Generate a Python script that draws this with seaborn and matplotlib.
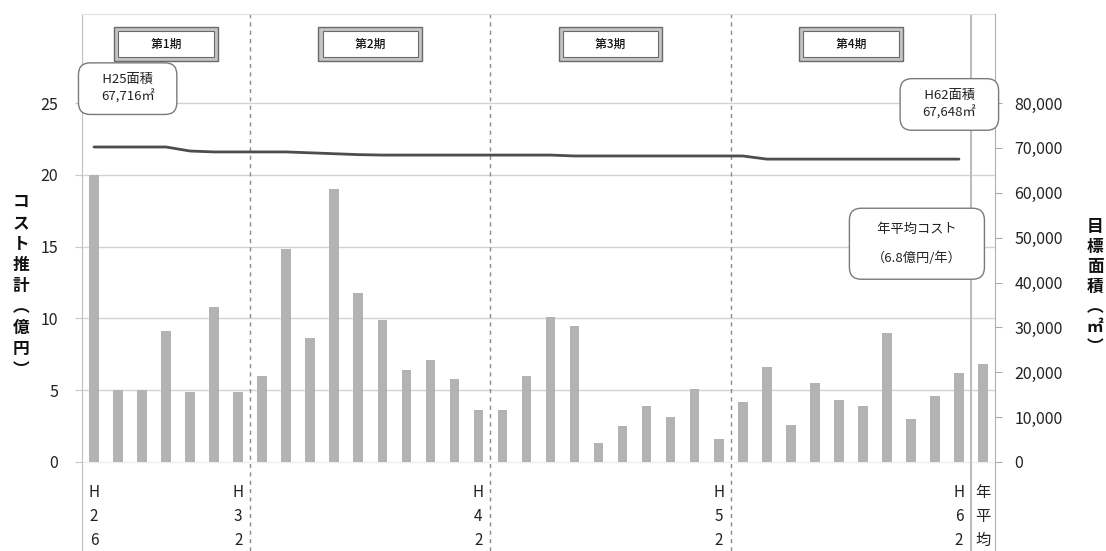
import numpy as np
import pandas as pd
import matplotlib
matplotlib.use("Agg")
import matplotlib.pyplot as plt
import seaborn as sns

# ---------------- data ----------------
years = [f"H{y}" for y in range(26, 63)] + ["年平均"]
cost = [20.0, 5.0, 5.0, 9.1, 4.9, 10.8, 4.9,
        6.0, 14.8, 8.6, 19.0, 11.8, 9.9, 6.4, 7.1, 5.8, 3.6,
        3.6, 6.0, 10.1, 9.5, 1.3, 2.5, 3.9, 3.1, 5.1, 1.6,
        4.2, 6.6, 2.6, 5.5, 4.3, 3.9, 9.0, 3.0, 4.6, 6.2,
        6.8]
area = [70200, 70200, 70200, 70200, 69300, 69100, 69100,
        69100, 69100, 68900, 68700, 68500, 68400, 68400, 68400, 68400, 68400,
        68400, 68400, 68400, 68200, 68200, 68200, 68200, 68200, 68200, 68200,
        68200, 67500, 67500, 67500, 67500, 67500, 67500, 67500, 67500, 67500]
periods = ["第1期", "第2期", "第3期", "第4期"]
period_ranges = [("H26", "H32"), ("H33", "H42"), ("H43", "H52"), ("H53", "H62")]
label_years = ["H26", "H32", "H42", "H52", "H62", "年平均"]
left_ticks = [0, 5, 10, 15, 20, 25]
right_ticks = [0, 10000, 20000, 30000, 40000, 50000, 60000, 70000, 80000]
avg_cost = 6.8

# ---------------- style ----------------
sns.set_style("white")
plt.rcParams["font.family"] = ["Noto Sans CJK JP", "DejaVu Sans"]

W, H = 1106, 551
fig = plt.figure(figsize=(W / 100, H / 100), dpi=100)
ax = fig.add_axes([82 / W, 0, (995 - 82) / W, 1 - 14 / H])

df = pd.DataFrame({"year": years, "cost": cost})
sns.barplot(data=df, x="year", y="cost", color="#b3b3b3", saturation=1,
            width=0.4, linewidth=0, ax=ax, zorder=2)

ratio = 3200.0
ylo, yhi = -6.2, 31.2
ax.set_xlim(-0.5, len(years) - 0.5)
ax.set_ylim(ylo, yhi)
ax.set_xticks([])
ax.set_xlabel("")
ax.set_ylabel("")
ax.set_yticks(left_ticks)
ax.tick_params(axis="y", length=5, color="#c8c8c8", pad=12, labelsize=11.5, labelcolor="#222")
ax.set_axisbelow(True)
ax.yaxis.grid(True, color="#d2d2d2", lw=1)
ax.get_ygridlines()[0].set_color("#efefef")
for s in ["bottom", "right"]:
    ax.spines[s].set_visible(False)
ax.spines["left"].set_color("#c0c0c0")
ax.spines["top"].set_color("#e0e0e0")

# period separators
for a, b in period_ranges[:-1]:
    ax.axvline(years.index(b) + 0.5, color="#8a8a8a", lw=1, ls=(0, (3, 3)), zorder=1)
ax.axvline(years.index("H62") + 0.5, color="#bdbdbd", lw=1.5, zorder=1)

# right axis with area line
ax2 = ax.twinx()
ax2.set_ylim(ylo * ratio, yhi * ratio)
sns.lineplot(x=np.arange(len(area)), y=area, ax=ax2, color="#4d4d4d", lw=2.0)
ax2.set_xlim(-0.5, len(years) - 0.5)
ax2.set_yticks(right_ticks)
ax2.set_yticklabels([f"{v:,}" for v in right_ticks])
ax2.tick_params(axis="y", length=5, color="#aaaaaa", pad=9, labelsize=11.5, labelcolor="#222")
ax2.set_ylabel("")
for s in ["bottom", "left", "top"]:
    ax2.spines[s].set_visible(False)
ax2.spines["right"].set_color("#b0b0b0")

# x labels (vertical stacked characters)
for lab in label_years:
    xi = years.index(lab)
    for k, ch in enumerate(lab):
        ax.text(xi, -2.16 - k * 1.64, ch, ha="center", va="center", fontsize=11, color="#222")

# period boxes
for p, (a, b) in zip(periods, period_ranges):
    xc = (years.index(a) + years.index(b)) / 2
    s = "　　 " + p + " 　　"
    ax2.text(xc, 29.1 * ratio, s, ha="center", va="center", fontsize=8.5, color="#111", zorder=10,
             fontweight="medium",
             bbox=dict(boxstyle="square,pad=0.9", fc="#c4c4c4", ec="#6a6a6a", lw=1))
    ax2.text(xc, 29.1 * ratio, s, ha="center", va="center", fontsize=8.5, color="#111", zorder=11,
             fontweight="medium",
             bbox=dict(boxstyle="square,pad=0.55", fc="white", ec="#6a6a6a", lw=0.8))

# rounded callouts
rb = dict(boxstyle="round,pad=0.8,rounding_size=0.9", fc="white", ec="#7a7a7a", lw=1)
ax2.text(1.4, 26.0 * ratio, "　H25面積　\n67,716㎡", ha="center", va="center", ma="center",
         fontsize=9.5, linespacing=1.3, color="#222", zorder=12, bbox=rb)
ax2.text(35.6, 24.9 * ratio, "　H62面積　\n67,648㎡", ha="center", va="center", ma="center",
         fontsize=9.5, linespacing=1.3, color="#222", zorder=12, bbox=rb)
ax2.text(34.25, 15.2 * ratio, f"　年平均コスト　\n（{avg_cost}億円/年）", ha="center", va="center",
         ma="center", fontsize=9.5, linespacing=2.45, color="#222", zorder=12,
         bbox=dict(boxstyle="round,pad=1.1,rounding_size=0.9", fc="white", ec="#7a7a7a", lw=1))

# axis titles (vertical stacked)
def vlabel(x_px, y0_px, step_px, chars):
    for k, ch in enumerate(chars):
        fig.text(x_px / W, 1 - (y0_px + k * step_px) / H, ch, ha="center", va="center",
                 fontsize=12, fontweight="bold", color="#111")

vlabel(21, 202, 21.0, "コスト推計︵億円︶")
vlabel(1095, 227, 20.0, "目標面積︵㎡︶")

fig.savefig("out.png", dpi=100, facecolor="white")
